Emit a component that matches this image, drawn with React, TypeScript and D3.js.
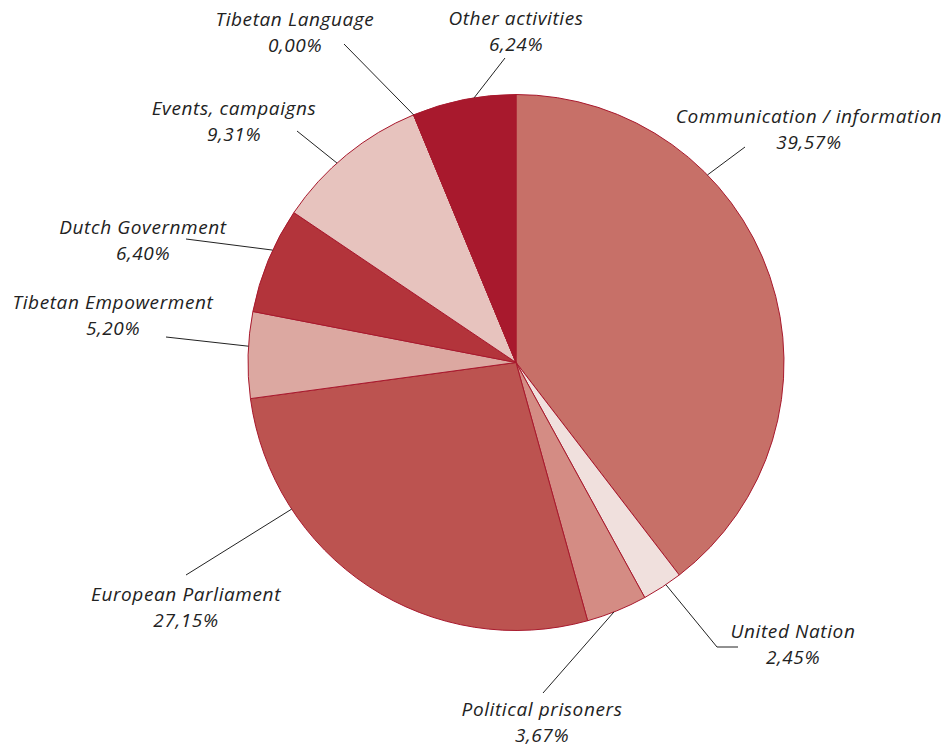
import React from "react";
import * as d3 from "d3";

const categories = [
  "Communication / information",
  "United Nation",
  "Political prisoners",
  "European Parliament",
  "Tibetan Empowerment",
  "Dutch Government",
  "Events, campaigns",
  "Tibetan Language",
  "Other activities",
];
const values = [39.57, 2.45, 3.67, 27.15, 5.2, 6.4, 9.31, 0.0, 6.24];
const valueLabels = ["39,57%", "2,45%", "3,67%", "27,15%", "5,20%", "6,40%", "9,31%", "0,00%", "6,24%"];
const colors = ["#c77068", "#f0e0dd", "#d48c84", "#bc5350", "#dca8a1", "#b3343b", "#e7c3be", "#a8192d", "#a8192d"];

// layout: label centre (x, y of first line), leader end point, leader position within slice (0..1), elbow
const layout = [
  { lx: 809, ly: 123, ex: 745, ey: 147, t: 0.32 },
  { lx: 793, ly: 638, ex: 717, ey: 647, t: 0.4, hx: 738 },
  { lx: 542, ly: 716, ex: 543, ey: 693, t: 0.55 },
  { lx: 186, ly: 601, ex: 186, ey: 575, t: 0.74 },
  { lx: 113, ly: 309, ex: 166, ey: 337, t: 0.6 },
  { lx: 143, ly: 234, ex: 186, ey: 239, t: 0.6 },
  { lx: 234, ly: 115, ex: 297, ey: 131, t: 0.42 },
  { lx: 295, ly: 26, ex: 344, ey: 44, t: 0.5 },
  { lx: 516, ly: 25, ex: 505, ey: 58, t: 0.6 },
];

const W = 951;
const H = 749;
const cx = 516;
const cy = 362.5;
const R = 268;

export default function App() {
  const pie = d3.pie<number>().sort(null).value((d) => d);
  const arcs = pie(values);
  const arcGen = d3.arc<d3.PieArcDatum<number>>().innerRadius(0).outerRadius(R);

  return (
    <svg
      width={W}
      height={H}
      style={{ position: "absolute", left: 0, top: 0, background: "#fff" }}
      fontFamily="'Open Sans', 'DejaVu Sans', sans-serif"
    >
      <g transform={`translate(${cx},${cy})`}>
        {arcs.map((a, i) => (
          <path
            key={i}
            d={arcGen(a) || ""}
            fill={colors[i]}
            stroke="#a8192d"
            strokeWidth={1}
            strokeLinejoin="round"
          />
        ))}
      </g>
      {arcs.map((a, i) => {
        const L = layout[i];
        const ang = a.startAngle + (a.endAngle - a.startAngle) * L.t;
        const sx = cx + R * Math.sin(ang);
        const sy = cy - R * Math.cos(ang);
        const pts = [[sx, sy], [L.ex, L.ey]];
        if (L.hx !== undefined) pts.push([L.hx, L.ey]);
        const line = d3.line()(pts as [number, number][]) || "";
        return (
          <g key={i}>
            <path d={line} fill="none" stroke="#222" strokeWidth={1} />
            <text
              x={L.lx}
              y={L.ly}
              textAnchor="middle"
              fontStyle="italic"
              fontSize={19}
              fill="#222"
              letterSpacing={0.6}
            >
              <tspan x={L.lx}>{categories[i]}</tspan>
              <tspan x={L.lx} dy={26}>{valueLabels[i]}</tspan>
            </text>
          </g>
        );
      })}
    </svg>
  );
}
